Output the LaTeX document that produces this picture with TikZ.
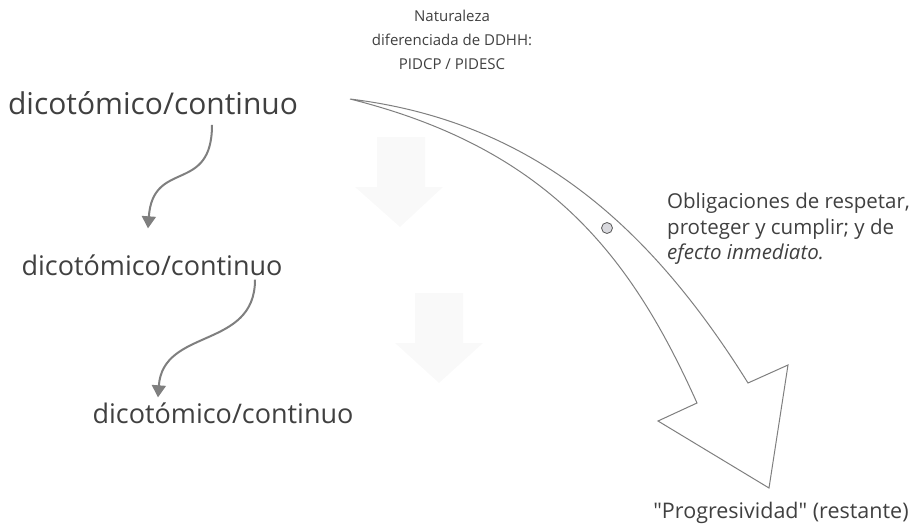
\documentclass[tikz,border=0pt]{standalone}
\usepackage{fontspec}
\setmainfont{Open Sans}[Ligatures=TeXOff]
\usetikzlibrary{arrows.meta}

\definecolor{txtgray}{HTML}{404040}
\definecolor{linegray}{HTML}{7F7F7F}
\definecolor{ghostgray}{HTML}{F9F9F9}
\definecolor{dotgray}{HTML}{D9D9DE}

\begin{document}
\begin{tikzpicture}[x=1pt,y=-1pt,
	big/.style={text=txtgray, inner sep=0pt, font=\fontsize{27}{32}\selectfont},
	small/.style={text=txtgray, inner sep=0pt, font=\fontsize{20.5}{25.5}\selectfont},
	conn/.style={linegray, line width=2pt, -{Triangle[length=12pt,width=14pt]}}]
	\useasboundingbox (0,0) rectangle (918,527);

	% faint down arrows in the background
	\fill [ghostgray] (377,137) -- (425,137) -- (425,187) -- (443,187) -- (400,227) -- (355,187) -- (377,187) -- cycle;
	\fill [ghostgray] (415,293) -- (463,293) -- (463,343) -- (483,343) -- (439,383) -- (395,343) -- (415,343) -- cycle;

	% big curved arrow
	\draw [linegray, line width=1pt, line join=miter] (350,99)
		.. controls (530,121) and (648,223) .. (748,383)
		-- (788,365) -- (769,488) -- (658,421) -- (697,403)
		.. controls (632,258) and (550,149) .. cycle;
	\node [circle, draw=black!65, fill=dotgray, line width=0.8pt, minimum size=11pt, inner sep=0pt] (dot) at (607,228) {};

	\node [big, font=\fontsize{30}{36}\selectfont] (dico1) at (153,103) {dicotómico/continuo};
	\node [big] (dico2) at (152,265) {dicotómico/continuo};
	\node [big] (dico3) at (223,413) {dicotómico/continuo};

	\node [small, align=center, font=\fontsize{15}{24}\selectfont] (nat) at (452,40) {Naturaleza\\diferenciada de DDHH:\\PIDCP / PIDESC};
	\node [small, align=left, anchor=west] (oblig) at (667,229) {Obligaciones de respetar,\\proteger y cumplir; y de\\\textit{efecto inmediato.}};
	\node [small, font=\fontsize{21.5}{26}\selectfont] (prog) at (781,513) {"Progresividad" (restante)};

	\draw [conn] ([xshift=59pt,yshift=-10pt]dico1.south) .. controls +(0,70) and +(5,-70) .. ([xshift=-4pt,yshift=26pt]dico2.north);
	\draw [conn] ([xshift=103pt,yshift=-4pt]dico2.south) .. controls +(0,70) and +(5,-70) .. ([xshift=-65pt,yshift=5pt]dico3.north);
\end{tikzpicture}
\end{document}
